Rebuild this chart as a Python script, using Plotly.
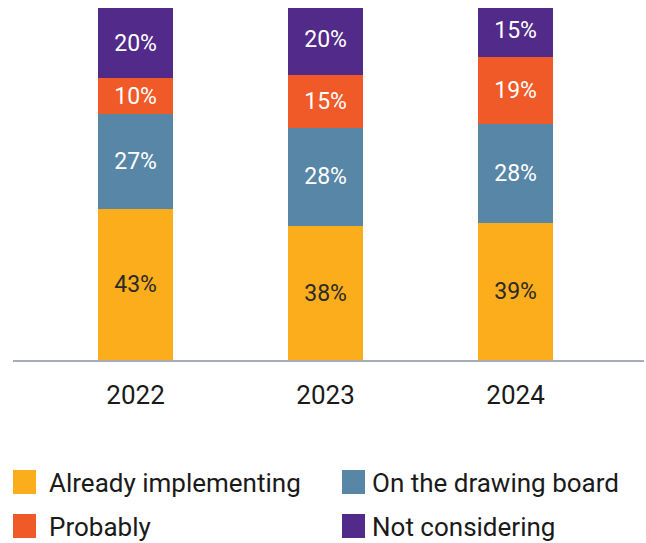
import plotly.graph_objects as go

# Survey results by year (percent of respondents)
years = ["2022", "2023", "2024"]
series_names = ["Already implementing", "On the drawing board", "Probably", "Not considering"]
already_implementing = [43, 38, 39]
on_the_drawing_board = [27, 28, 28]
probably = [10, 15, 19]
not_considering = [20, 20, 15]

series_values = [already_implementing, on_the_drawing_board, probably, not_considering]
colors = ["#FBAD1B", "#5886A6", "#F05A28", "#522A89"]
label_colors = ["#2a2a2a", "#ffffff", "#ffffff", "#ffffff"]

W, H = 646, 543
M_L, M_R, M_T, M_B = 13, 2, 8, 183
FONT = "Roboto"

fig = go.Figure()
for name, vals, col, lc in zip(series_names, series_values, colors, label_colors):
    fig.add_trace(go.Bar(
        x=list(range(len(years))),
        y=vals,
        name=name,
        marker=dict(color=col, line=dict(width=0)),
        width=0.395,
        text=[f"{v}%" for v in vals],
        textposition="inside",
        insidetextanchor="middle",
        textangle=0,
        textfont=dict(family=FONT, size=23, color=lc),
        hoverinfo="skip",
        showlegend=False,
    ))

# Custom legend: 2x2 grid of large square swatches with labels
plot_w = W - M_L - M_R
plot_h = H - M_T - M_B

def px_x(px):
    return (px - M_L) / plot_w

def px_y(py):
    return (H - M_B - py) / plot_h

# (swatch left, swatch top, label left)
legend_cells = [(13, 470, 47), (342, 470, 370), (13, 514, 47), (342, 514, 370)]
sw_w, sw_h = 23, 24
for (lx, ly, tx), name, col in zip(legend_cells, series_names, colors):
    fig.add_shape(
        type="rect", xref="paper", yref="paper",
        x0=px_x(lx), x1=px_x(lx + sw_w), y0=px_y(ly + sw_h), y1=px_y(ly),
        fillcolor=col, line=dict(width=0), layer="above",
    )
    fig.add_annotation(
        xref="paper", yref="paper", x=px_x(tx), y=px_y(ly + sw_h / 2 + 1),
        text=name, showarrow=False, xanchor="left", yanchor="middle",
        font=dict(family=FONT, size=26, color="#1a1a1a"),
    )

fig.update_layout(
    width=W, height=H,
    margin=dict(l=M_L, r=M_R, t=M_T, b=M_B),
    barmode="stack",
    plot_bgcolor="white", paper_bgcolor="white",
    uniformtext=dict(minsize=23, mode="show"),
    xaxis=dict(
        tickmode="array", tickvals=list(range(len(years))), ticktext=years,
        range=[-0.645, 2.676],
        showgrid=False, zeroline=False,
        showline=True, linecolor="#A9ACB8", linewidth=2,
        ticks="", ticklabelstandoff=11,
        tickfont=dict(family=FONT, size=26, color="#1a1a1a"),
    ),
    yaxis=dict(
        range=[0, 100], visible=False, showgrid=False, zeroline=False,
    ),
)

fig.write_html("out.html")
